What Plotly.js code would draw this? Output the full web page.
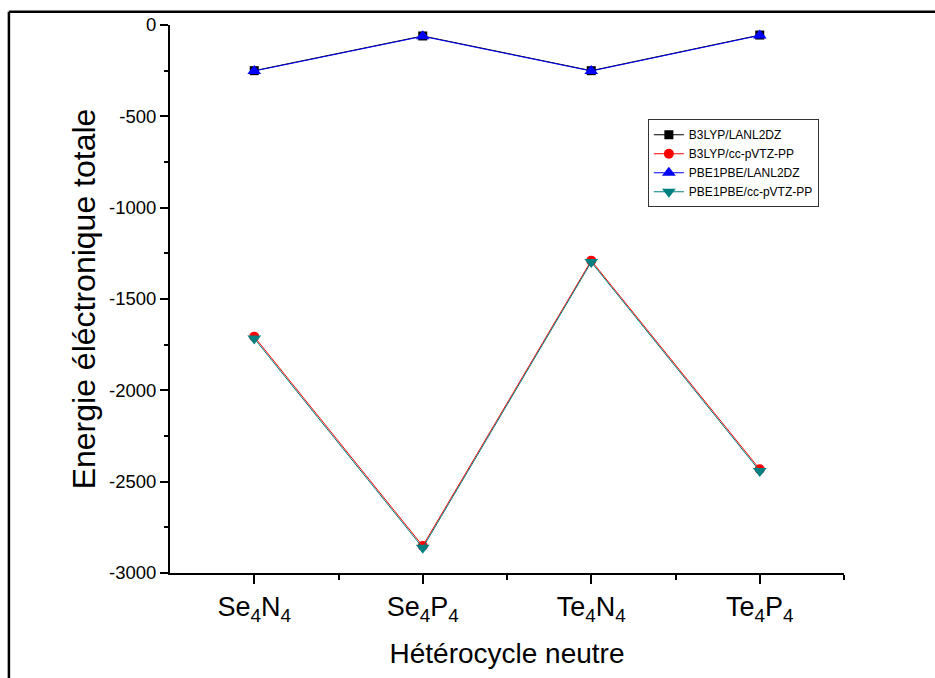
<!DOCTYPE html>
<html>
<head>
<meta charset="utf-8">
<script src="https://cdn.plot.ly/plotly-3.0.1.min.js"></script>
<style>html,body{margin:0;padding:0;background:#fff;}#chart{width:935px;height:678px;}</style>
</head>
<body>
<div id="chart"></div>
<script>
const categories = [1, 2, 3, 4];
const tickLabels = ["Se<sub>4</sub>N<sub>4</sub>", "Se<sub>4</sub>P<sub>4</sub>", "Te<sub>4</sub>N<sub>4</sub>", "Te<sub>4</sub>P<sub>4</sub>"];
const yTickVals = [0, -500, -1000, -1500, -2000, -2500, -3000];
const yTickText = ["0", "-500", "-1000", "-1500", "-2000", "-2500", "-3000"];
const b3lypLanl2dz = [-250, -60, -250, -55];
const b3lypCcpvtz = [-1706, -2852, -1290, -2432];
const pbeLanl2dz = [-252, -62, -252, -57];
const pbeCcpvtz = [-1716, -2862, -1298, -2442];
const seriesNames = ["B3LYP/LANL2DZ", "B3LYP/cc-pVTZ-PP", "PBE1PBE/LANL2DZ", "PBE1PBE/cc-pVTZ-PP"];

const font = "Arial, 'Liberation Sans', sans-serif";
function tr(y, name, color, symbol, size) {
  return {x: categories, y: y, name: name, type: 'scatter', mode: 'lines+markers',
    line: {color: color, width: 1}, marker: {color: color, symbol: symbol, size: size}};
}
const data = [
  tr(b3lypLanl2dz, seriesNames[0], '#000000', 'square', 9),
  tr(b3lypCcpvtz, seriesNames[1], '#ff0000', 'circle', 10),
  tr(pbeLanl2dz, seriesNames[2], '#0000ff', 'triangle-up', 12),
  tr(pbeCcpvtz, seriesNames[3], '#008080', 'triangle-down', 12)
];
const layout = {
  width: 935, height: 678,
  margin: {l: 170, r: 91, t: 25, b: 105},
  paper_bgcolor: '#fff', plot_bgcolor: '#fff',
  font: {family: font, color: '#000'},
  showlegend: true,
  legend: {x: 0.709, y: 0.828, xanchor: 'left', yanchor: 'top', bgcolor: '#fff',
    bordercolor: '#333', borderwidth: 1, font: {family: font, size: 12, color: '#000'},
    tracegroupgap: 0, itemwidth: 30},
  xaxis: {range: [0.5, 4.5], tickmode: 'array', tickvals: categories, ticktext: tickLabels,
    showline: true, linecolor: '#000', linewidth: 2, ticks: 'outside', ticklen: 9, tickwidth: 2,
    tickcolor: '#000', showgrid: false, zeroline: false, tickfont: {size: 27, family: font},
    minor: {tickmode: 'array', tickvals: [1.5, 2.5, 3.5, 4.5], ticks: 'outside', ticklen: 5, tickwidth: 2, tickcolor: '#000'},
    title: {text: 'Hétérocycle neutre', font: {size: 28, family: font}, standoff: 18}},
  yaxis: {range: [-3000, 0], tickmode: 'array', tickvals: yTickVals, ticktext: yTickText,
    showline: true, linecolor: '#000', linewidth: 2, ticks: 'outside', ticklen: 8, tickwidth: 2,
    tickcolor: '#000', showgrid: false, zeroline: false, tickfont: {size: 18.5, family: font},
    minor: {dtick: 250, ticks: 'outside', ticklen: 4, tickwidth: 2, tickcolor: '#000'},
    title: {text: 'Energie éléctronique totale', font: {size: 32, family: font}, standoff: 4}},
  shapes: [
    {type: 'line', xref: 'paper', yref: 'paper', x0: -0.239, x1: 1.2, y0: 1.024, y1: 1.024, line: {color: '#000', width: 2.5}},
    {type: 'line', xref: 'paper', yref: 'paper', x0: -0.239, x1: -0.239, y0: 1.024, y1: -0.2, line: {color: '#000', width: 2.5}}
  ]
};
Plotly.newPlot('chart', data, layout, {displayModeBar: false, staticPlot: true});
</script>
</body>
</html>
